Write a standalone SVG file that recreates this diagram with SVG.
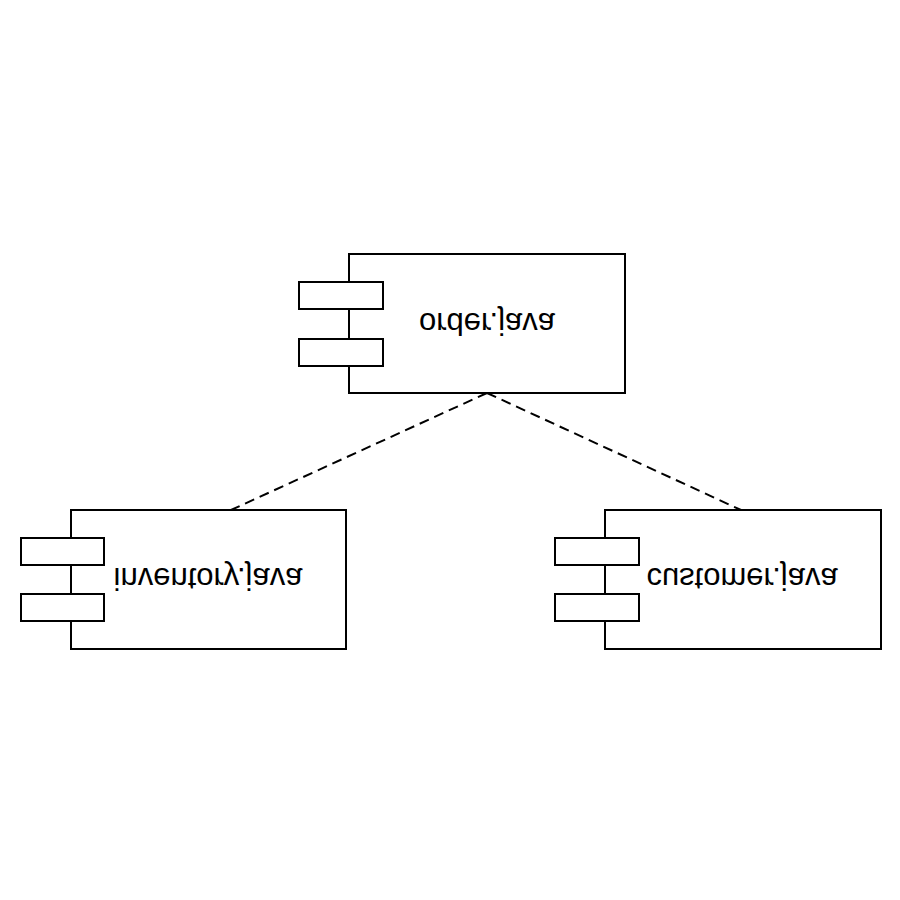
<svg xmlns="http://www.w3.org/2000/svg" width="900" height="900" viewBox="0 0 900 900">
<style>
.box{fill:#fff;stroke:#000;stroke-width:2}
.lbl{font-family:"Liberation Sans",Arial,sans-serif;font-size:31px;fill:#000;text-anchor:middle}
.dep{stroke:#000;stroke-width:2;fill:none;stroke-dasharray:10,6}
</style>
<rect width="900" height="900" fill="#fff"/>
<g id="connectors">
<line class="dep" x1="487" y1="393" x2="231" y2="510"/>
<line class="dep" x1="487" y1="393" x2="741" y2="510"/>
</g>
<g id="order">
<rect class="box" x="349" y="254" width="276" height="139"/>
<rect class="box" x="299" y="282" width="84" height="27"/>
<rect class="box" x="299" y="339" width="84" height="27"/>
<text class="lbl" transform="translate(487,313) scale(1,-1)" x="0" y="0">order.java</text>
</g>
<g id="inventory">
<rect class="box" x="71" y="510" width="275" height="139"/>
<rect class="box" x="21" y="538" width="83" height="27"/>
<rect class="box" x="21" y="594" width="83" height="27"/>
<text class="lbl" transform="translate(208,568) scale(1,-1)" x="0" y="0">inventory.java</text>
</g>
<g id="customer">
<rect class="box" x="605" y="510" width="276" height="139"/>
<rect class="box" x="555" y="538" width="84" height="27"/>
<rect class="box" x="555" y="594" width="84" height="27"/>
<text class="lbl" transform="translate(742,568) scale(1,-1)" x="0" y="0">customer.java</text>
</g>
</svg>
